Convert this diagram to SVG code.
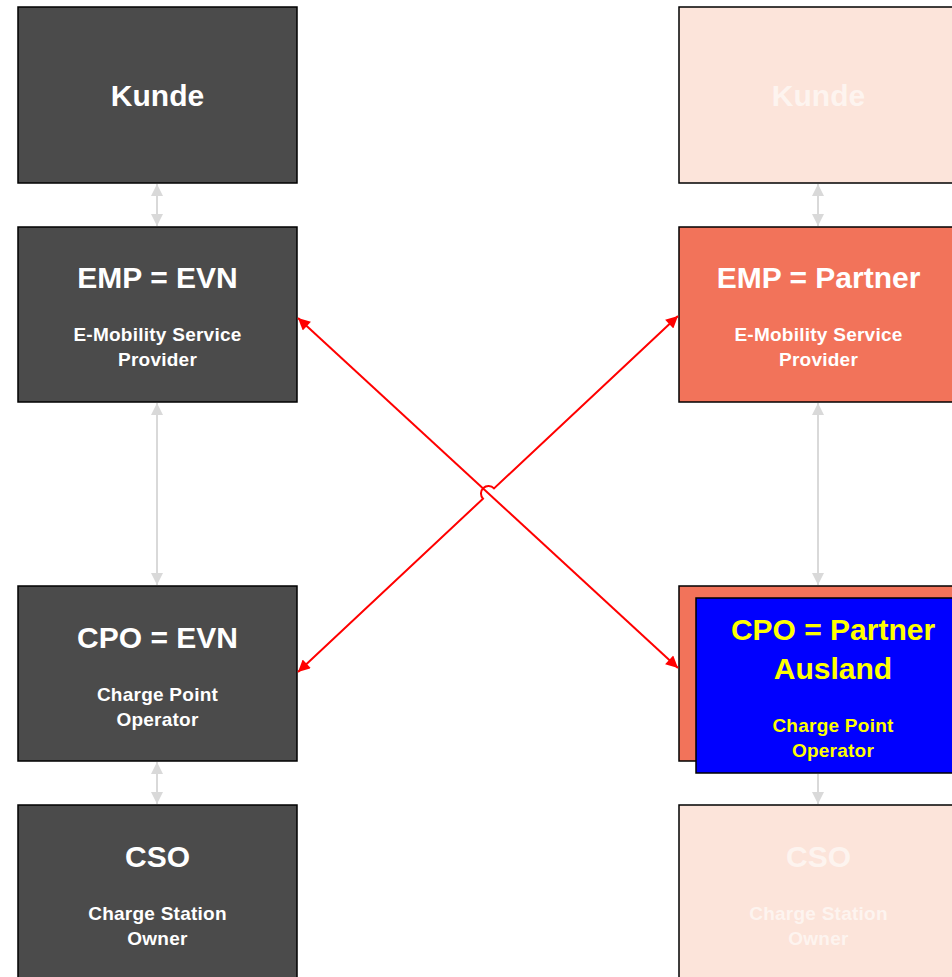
<svg xmlns="http://www.w3.org/2000/svg" width="952" height="977" viewBox="0 0 952 977">
<style>
.box{stroke:#000;stroke-width:1.5}
.dark{fill:#4B4B4B}
.peach{fill:#FCE4DA}
.salmon{fill:#F2735A}
.blue{fill:#0000FF}
text{font-family:"Liberation Sans",Arial,sans-serif;font-weight:bold;text-anchor:middle}
.t{font-size:30px;fill:#fff}
.s{font-size:19px;fill:#fff;letter-spacing:0.25px}
.tp{font-size:30px;fill:#FFFFFF;fill-opacity:0.6}
.sp{font-size:19px;fill:#FFFFFF;fill-opacity:0.6;letter-spacing:0.25px}
.ty{font-size:30px;fill:#FFFF00}
.sy{font-size:19px;fill:#FFFF00;letter-spacing:0.25px}
.g{stroke:#D9D9D9;stroke-width:2;fill:none}
.r{stroke:#FF0000;stroke-width:2;fill:none}
</style>
<defs>
<marker id="ga" viewBox="0 0 10 10" refX="10" refY="5" markerWidth="6" markerHeight="6" orient="auto-start-reverse" markerUnits="strokeWidth"><path d="M0,0 L10,5 L0,10 z" fill="#D9D9D9"/></marker>
<marker id="ra" viewBox="0 0 10 10" refX="10" refY="5" markerWidth="7" markerHeight="6" orient="auto-start-reverse" markerUnits="strokeWidth"><path d="M0,0 L10,5 L0,10 z" fill="#FF0000"/></marker>
</defs>

<g id="kunde-evn"><rect class="box dark" x="18" y="7" width="279" height="176"/><text class="t" x="157.5" y="106">Kunde</text></g>
<g id="emp-evn"><rect class="box dark" x="18" y="227" width="279" height="175"/><text class="t" x="157.5" y="288">EMP = EVN</text><text class="s" x="157.5" y="341">E-Mobility Service</text><text class="s" x="157.5" y="366">Provider</text></g>
<g id="cpo-evn"><rect class="box dark" x="18" y="586" width="279" height="175"/><text class="t" x="157.5" y="648">CPO = EVN</text><text class="s" x="157.5" y="701">Charge Point</text><text class="s" x="157.5" y="726">Operator</text></g>
<g id="cso-evn"><rect class="box dark" x="18" y="805" width="279" height="180"/><text class="t" x="157.5" y="867">CSO</text><text class="s" x="157.5" y="920">Charge Station</text><text class="s" x="157.5" y="945">Owner</text></g>

<g id="kunde-partner"><rect class="box peach" x="679" y="7" width="279" height="176"/><text class="tp" x="818.5" y="106">Kunde</text></g>
<g id="emp-partner"><rect class="box salmon" x="679" y="227" width="279" height="175"/><text class="t" x="818.5" y="288">EMP = Partner</text><text class="s" x="818.5" y="341">E-Mobility Service</text><text class="s" x="818.5" y="366">Provider</text></g>
<g id="cpo-partner"><rect class="box salmon" x="679" y="586" width="279" height="175"/><rect class="box blue" x="696" y="598" width="275" height="175"/><text class="ty" x="833" y="640">CPO = Partner</text><text class="ty" x="833" y="679">Ausland</text><text class="sy" x="833" y="732">Charge Point</text><text class="sy" x="833" y="757">Operator</text></g>
<g id="cso-partner"><rect class="box peach" x="679" y="805" width="279" height="180"/><text class="tp" x="818.5" y="867">CSO</text><text class="sp" x="818.5" y="920">Charge Station</text><text class="sp" x="818.5" y="945">Owner</text></g>

<g id="connectors">
<line class="g" x1="157" y1="184" x2="157" y2="226" marker-start="url(#ga)" marker-end="url(#ga)"/>
<line class="g" x1="157" y1="403" x2="157" y2="585" marker-start="url(#ga)" marker-end="url(#ga)"/>
<line class="g" x1="157" y1="762" x2="157" y2="804" marker-start="url(#ga)" marker-end="url(#ga)"/>
<line class="g" x1="818" y1="184" x2="818" y2="226" marker-start="url(#ga)" marker-end="url(#ga)"/>
<line class="g" x1="818" y1="403" x2="818" y2="585" marker-start="url(#ga)" marker-end="url(#ga)"/>
<line class="g" x1="818" y1="774" x2="818" y2="804" marker-end="url(#ga)"/>
<line class="r" x1="298" y1="318" x2="678" y2="668" marker-start="url(#ra)" marker-end="url(#ra)"/>
<path class="r" d="M298,672 L483,498.7 A7.5 7.5 0 0 1 494,488.4 L678,316" marker-start="url(#ra)" marker-end="url(#ra)"/>
</g>
</svg>
